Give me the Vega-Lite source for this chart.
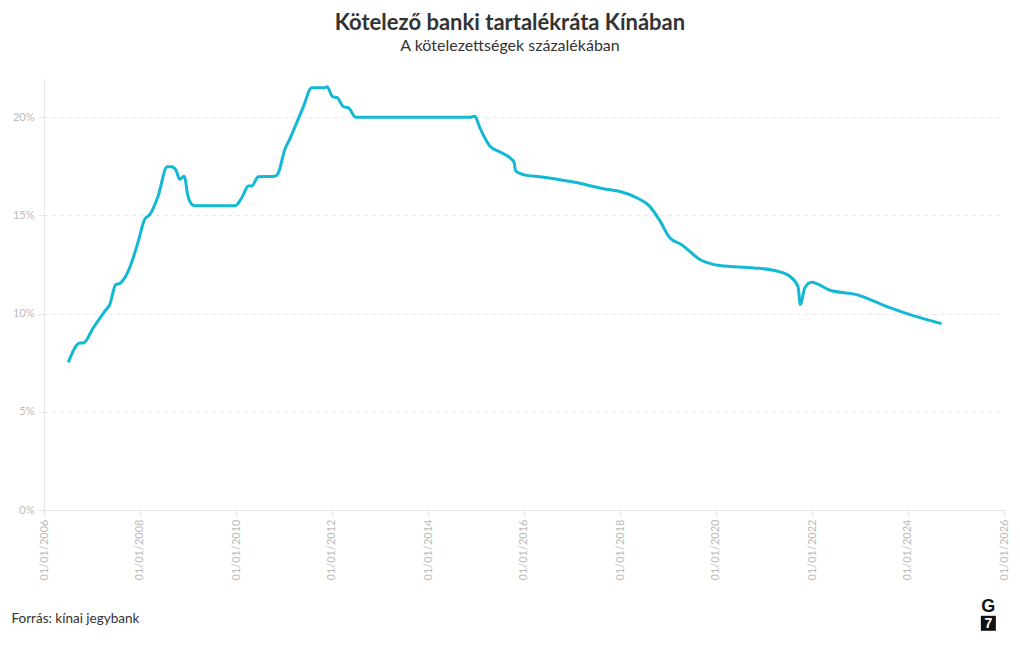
{
  "$schema": "https://vega.github.io/schema/vega-lite/v6.json",
  "width": 960,
  "height": 432,
  "autosize": {"type": "none"},
  "padding": {"left": 44, "top": 78, "right": 16, "bottom": 140},
  "background": "white",
  "config": {
    "view": {"stroke": null},
    "font": "Lato"
  },
  "title": {
    "text": "Kötelező banki tartalékráta Kínában",
    "subtitle": "A kötelezettségek százalékában",
    "anchor": "middle",
    "frame": "group",
    "dx": -14,
    "offset": 23,
    "font": "Lato",
    "fontSize": 22,
    "fontWeight": "bold",
    "color": "#333333",
    "subtitleFont": "Lato",
    "subtitleFontSize": 16,
    "subtitleColor": "#333333",
    "subtitlePadding": 3
  },
  "layer": [
    {
      "data": {
        "values": [
          {"date": "2006-07-05", "rate": 7.52},
          {"date": "2006-10-01", "rate": 8.5},
          {"date": "2006-10-27", "rate": 8.5},
          {"date": "2007-01-10", "rate": 9.27},
          {"date": "2007-04-08", "rate": 10.12},
          {"date": "2007-05-16", "rate": 10.46},
          {"date": "2007-07-01", "rate": 11.48},
          {"date": "2007-07-30", "rate": 11.53},
          {"date": "2007-10-04", "rate": 12.16},
          {"date": "2007-12-16", "rate": 13.6},
          {"date": "2008-02-06", "rate": 14.8},
          {"date": "2008-03-17", "rate": 15.05},
          {"date": "2008-05-18", "rate": 15.98},
          {"date": "2008-07-26", "rate": 17.48},
          {"date": "2008-08-28", "rate": 17.48},
          {"date": "2008-10-01", "rate": 17.31},
          {"date": "2008-10-30", "rate": 16.84},
          {"date": "2008-12-02", "rate": 17.0},
          {"date": "2009-01-01", "rate": 15.98},
          {"date": "2009-01-30", "rate": 15.56},
          {"date": "2009-02-24", "rate": 15.5},
          {"date": "2009-12-25", "rate": 15.5},
          {"date": "2010-02-14", "rate": 15.9},
          {"date": "2010-04-05", "rate": 16.5},
          {"date": "2010-04-30", "rate": 16.5},
          {"date": "2010-06-20", "rate": 16.97},
          {"date": "2010-10-22", "rate": 17.0},
          {"date": "2010-11-17", "rate": 17.14},
          {"date": "2011-01-08", "rate": 18.37},
          {"date": "2011-02-13", "rate": 18.88},
          {"date": "2011-05-26", "rate": 20.49},
          {"date": "2011-07-31", "rate": 21.5},
          {"date": "2011-11-07", "rate": 21.5},
          {"date": "2011-11-25", "rate": 21.55},
          {"date": "2012-01-06", "rate": 21.05},
          {"date": "2012-02-10", "rate": 21.0},
          {"date": "2012-03-28", "rate": 20.54},
          {"date": "2012-05-04", "rate": 20.49},
          {"date": "2012-07-01", "rate": 20.0},
          {"date": "2012-08-14", "rate": 20.0},
          {"date": "2014-11-15", "rate": 20.0},
          {"date": "2014-12-24", "rate": 20.05},
          {"date": "2015-01-30", "rate": 19.47},
          {"date": "2015-04-16", "rate": 18.54},
          {"date": "2015-07-01", "rate": 18.24},
          {"date": "2015-09-16", "rate": 17.94},
          {"date": "2015-10-19", "rate": 17.69},
          {"date": "2015-10-28", "rate": 17.3},
          {"date": "2015-12-01", "rate": 17.14},
          {"date": "2016-01-22", "rate": 17.04},
          {"date": "2016-05-01", "rate": 16.97},
          {"date": "2017-01-11", "rate": 16.7},
          {"date": "2017-09-20", "rate": 16.33},
          {"date": "2018-01-01", "rate": 16.22},
          {"date": "2018-05-01", "rate": 15.92},
          {"date": "2018-08-10", "rate": 15.5},
          {"date": "2018-10-30", "rate": 14.75},
          {"date": "2019-01-15", "rate": 13.86},
          {"date": "2019-04-12", "rate": 13.52},
          {"date": "2019-09-01", "rate": 12.76},
          {"date": "2020-01-30", "rate": 12.45},
          {"date": "2020-10-12", "rate": 12.33},
          {"date": "2021-03-12", "rate": 12.21},
          {"date": "2021-07-16", "rate": 11.9},
          {"date": "2021-09-16", "rate": 11.39},
          {"date": "2021-10-05", "rate": 10.46},
          {"date": "2021-11-07", "rate": 11.31},
          {"date": "2021-12-28", "rate": 11.6},
          {"date": "2022-05-17", "rate": 11.19},
          {"date": "2022-12-06", "rate": 10.97},
          {"date": "2023-07-20", "rate": 10.37},
          {"date": "2024-02-10", "rate": 9.9},
          {"date": "2024-09-13", "rate": 9.49}
        ]
      },
      "mark": {"type": "line", "color": "#12b8d4", "strokeWidth": 3, "interpolate": "monotone"},
      "encoding": {
        "x": {
          "field": "date",
          "type": "temporal",
          "scale": {"type": "utc", "domain": ["2006-01-01", "2026-01-01"]},
          "axis": {
            "values": [
              {"year": 2006, "month": 1, "date": 1, "utc": true},
              {"year": 2008, "month": 1, "date": 1, "utc": true},
              {"year": 2010, "month": 1, "date": 1, "utc": true},
              {"year": 2012, "month": 1, "date": 1, "utc": true},
              {"year": 2014, "month": 1, "date": 1, "utc": true},
              {"year": 2016, "month": 1, "date": 1, "utc": true},
              {"year": 2018, "month": 1, "date": 1, "utc": true},
              {"year": 2020, "month": 1, "date": 1, "utc": true},
              {"year": 2022, "month": 1, "date": 1, "utc": true},
              {"year": 2024, "month": 1, "date": 1, "utc": true},
              {"year": 2026, "month": 1, "date": 1, "utc": true}
            ],
            "format": "%d/%m/%Y",
            "labelAngle": -90,
            "labelColor": "#bbbbbb",
            "labelFontSize": 11,
            "labelPadding": 3,
            "labelFont": "Lato",
            "labelFlush": false,
            "labelOverlap": false,
            "tickSize": 6,
            "tickColor": "#e6e6e6",
            "domainColor": "#e6e6e6",
            "grid": false,
            "title": "Forrás: kínai jegybank",
            "titleFont": "Lato",
            "titleFontSize": 13.5,
            "titleFontWeight": "normal",
            "titleColor": "#333333",
            "titleAnchor": "start",
            "titleAlign": "left",
            "titleBaseline": "alphabetic",
            "titleX": -33,
            "titleY": 112
          }
        },
        "y": {
          "field": "rate",
          "type": "quantitative",
          "scale": {"domain": [0, 22], "nice": false},
          "axis": {
            "values": [0, 5, 10, 15, 20],
            "labelExpr": "datum.value + '%'",
            "labelColor": "#bbbbbb",
            "labelFontSize": 11,
            "labelFont": "Lato",
            "labelPadding": 4,
            "tickSize": 6,
            "tickColor": "#e6e6e6",
            "domainColor": "#e6e6e6",
            "gridColor": "#e8e8e8",
            "gridDash": [4, 4],
            "title": null
          }
        }
      }
    },
    {
      "data": {"values": [{"t": "G"}]},
      "mark": {"type": "text", "font": "Liberation Sans", "fontWeight": "bold", "fontSize": 18, "color": "#111111", "align": "center", "baseline": "middle"},
      "encoding": {
        "x": {"datum": {"year": 2025, "month": 9, "date": 4, "utc": true}, "type": "temporal"},
        "y": {"datum": -4.95, "type": "quantitative"},
        "text": {"field": "t"}
      }
    },
    {
      "data": {"values": [{"t": "7"}]},
      "mark": {"type": "square", "filled": true, "color": "#111111", "size": 225, "opacity": 1},
      "encoding": {
        "x": {"datum": {"year": 2025, "month": 9, "date": 4, "utc": true}, "type": "temporal"},
        "y": {"datum": -5.77, "type": "quantitative"}
      }
    },
    {
      "data": {"values": [{"t": "7"}]},
      "mark": {"type": "text", "font": "Liberation Sans", "fontWeight": "bold", "fontSize": 14, "color": "#ffffff", "align": "center", "baseline": "middle", "dy": 1},
      "encoding": {
        "x": {"datum": {"year": 2025, "month": 9, "date": 4, "utc": true}, "type": "temporal"},
        "y": {"datum": -5.77, "type": "quantitative"},
        "text": {"field": "t"}
      }
    }
  ]
}
